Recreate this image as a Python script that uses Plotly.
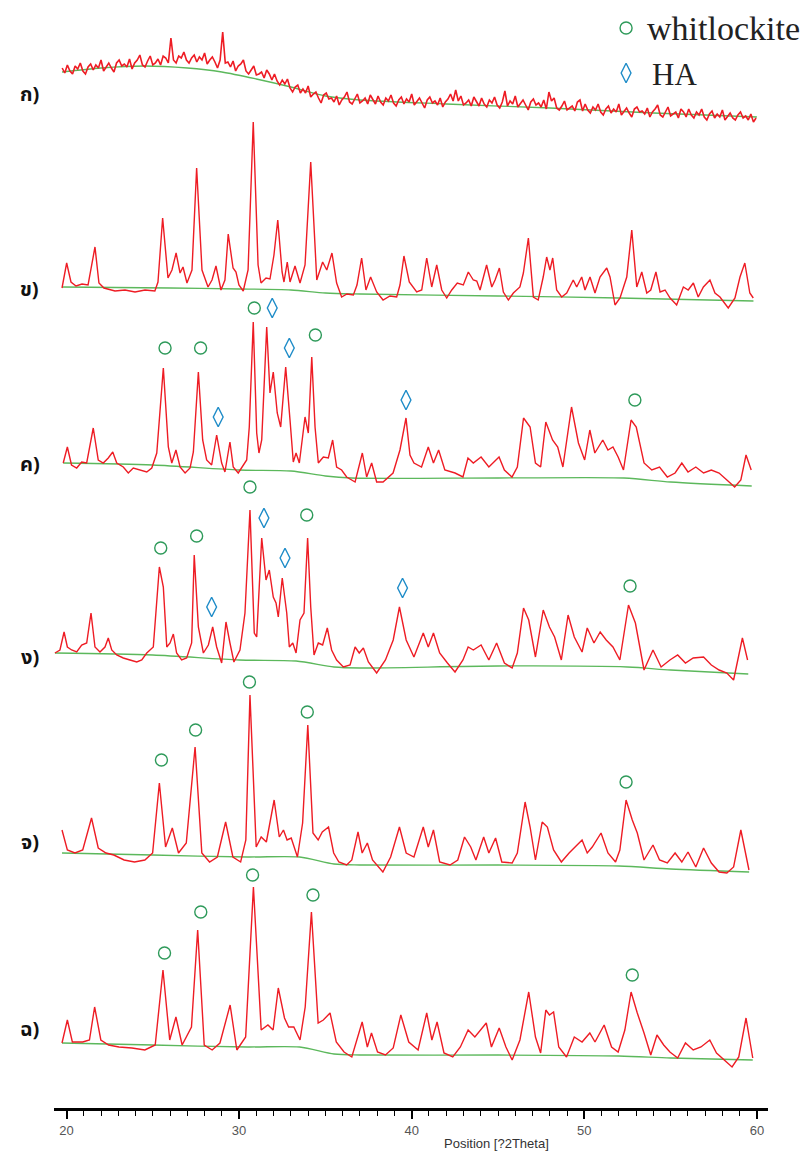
import plotly.graph_objects as go

# ---------------- data (2theta [deg], intensity [a.u.]) ----------------
PATTERN_KO = [  # ก)
    (19.75,52),(19.9,47),(20.05,55),(20.2,49),(20.35,46),(20.5,54),(20.65,51),(20.8,57),(20.95,49),(21.1,46),
    (21.25,53),(21.4,56),(21.55,50),(21.7,55),(21.85,52),(22.0,60),(22.15,49),(22.3,53),(22.45,57),(22.6,52),
    (22.75,48),(22.9,57),(23.05,60),(23.2,54),(23.35,56),(23.5,53),(23.65,61),(23.8,51),(23.95,57),(24.1,60),
    (24.25,65),(24.4,55),(24.55,53),(24.7,59),(24.85,64),(25.0,55),(25.15,57),(25.3,61),(25.45,55),(25.6,64),
    (25.75,62),(25.9,57),(26.05,82),(26.2,60),(26.35,57),(26.5,64),(26.65,62),(26.8,68),(26.95,60),(27.1,57),
    (27.25,62),(27.4,65),(27.55,58),(27.7,63),(27.85,60),(28.0,67),(28.15,56),(28.3,60),(28.45,63),(28.6,58),
    (28.75,52),(28.9,60),(29.05,88),(29.2,57),(29.35,58),(29.5,53),(29.65,59),(29.8,49),(29.95,54),(30.1,56),
    (30.25,60),(30.4,49),(30.55,46),(30.7,50),(30.85,54),(31.0,45),(31.15,46),(31.3,48),(31.45,42),(31.6,50),
    (31.75,46),(31.9,40),(32.05,46),(32.2,39),(32.35,35),(32.5,40),(32.65,36),(32.8,41),(32.95,32),(33.1,28),
    (33.25,33),(33.4,35),(33.55,27),(33.7,31),(33.85,27),(34.0,34),(34.15,23),(34.3,26),(34.45,28),(34.6,22),
    (34.75,17),(34.9,25),(35.05,27),(35.2,21),(35.35,22),(35.5,18),(35.65,24),(35.8,15),(35.95,20),(36.1,23),
    (36.25,28),(36.4,18),(36.55,16),(36.7,21),(36.85,26),(37.0,17),(37.15,19),(37.3,22),(37.45,16),(37.6,25),
    (37.75,21),(37.9,16),(38.05,24),(38.2,18),(38.35,15),(38.5,22),(38.65,19),(38.8,25),(38.95,17),(39.1,14),
    (39.25,20),(39.4,23),(39.55,16),(39.7,21),(39.85,18),(40.0,26),(40.15,15),(40.3,19),(40.45,22),(40.6,17),
    (40.75,12),(40.9,20),(41.05,23),(41.2,17),(41.35,19),(41.5,15),(41.65,22),(41.8,13),(41.95,18),(42.1,21),
    (42.25,26),(42.4,19),(42.55,30),(42.7,19),(42.85,24),(43.0,15),(43.15,17),(43.3,20),(43.45,14),(43.6,23),
    (43.75,19),(43.9,14),(44.05,22),(44.2,16),(44.35,13),(44.5,20),(44.65,17),(44.8,23),(44.95,15),(45.1,12),
    (45.25,18),(45.4,29),(45.55,14),(45.7,19),(45.85,16),(46.0,24),(46.15,13),(46.3,17),(46.45,20),(46.6,15),
    (46.75,10),(46.9,18),(47.05,21),(47.2,15),(47.35,17),(47.5,13),(47.65,20),(47.8,11),(47.95,28),(48.1,19),
    (48.25,22),(48.4,12),(48.55,10),(48.7,14),(48.85,19),(49.0,10),(49.15,12),(49.3,14),(49.45,9),(49.6,18),
    (49.75,20),(49.9,9),(50.05,16),(50.2,10),(50.35,7),(50.5,13),(50.65,10),(50.8,16),(50.95,8),(51.1,5),
    (51.25,11),(51.4,14),(51.55,7),(51.7,11),(51.85,8),(52.0,16),(52.15,5),(52.3,9),(52.45,12),(52.6,7),
    (52.75,3),(52.9,11),(53.05,13),(53.2,8),(53.35,9),(53.5,6),(53.65,12),(53.8,3),(53.95,8),(54.1,11),
    (54.25,15),(54.4,5),(54.55,3),(54.7,8),(54.85,13),(55.0,4),(55.15,6),(55.3,8),(55.45,2),(55.6,11),
    (55.75,8),(55.9,3),(56.05,11),(56.2,5),(56.35,2),(56.5,8),(56.65,5),(56.8,11),(56.95,3),(57.1,0),
    (57.25,6),(57.4,9),(57.55,2),(57.7,6),(57.85,3),(58.0,10),(58.15,0),(58.3,4),(58.45,7),(58.6,2),
    (58.75,0),(58.9,5),(59.05,8),(59.2,2),(59.35,4),(59.5,0),(59.65,6),(59.8,-2),(59.95,2),
]
BASE_KO = [(19.74,48),(22,52),(24.5,54),(27,52),(29,48),(31,41),(33,33),(35,24),(37,20),(42,16),(48,12),(54,7),(60,3)]

PATTERN_KHO = [  # ข)
    (19.74,12),(20.01,37),(20.26,18),(20.55,14),(20.9,16),(21.25,15),(21.65,53),(21.88,17),(22.17,12),(22.81,9),
    (23.39,10),(23.97,8),(24.55,10),(25.12,9),(25.3,18),(25.57,82),(25.88,22),(26.11,30),(26.35,47),(26.58,27),
    (26.75,33),(26.98,17),(27.27,30),(27.54,132),(27.85,30),(28.2,13),(28.43,20),(28.66,34),(28.95,10),(29.18,20),
    (29.37,66),(29.65,32),(29.82,28),(29.99,15),(30.24,9),(30.52,30),(30.82,178),(31.1,35),(31.27,17),(31.56,22),
    (31.79,21),(32.02,45),(32.24,80),(32.49,28),(32.6,18),(32.79,38),(32.95,18),(33.24,34),(33.53,17),(33.82,35),
    (34.15,138),(34.5,20),(34.84,38),(35.08,30),(35.38,47),(35.65,17),(35.94,3),(36.25,6),(36.62,5),(36.83,15),
    (37.1,42),(37.35,10),(37.62,23),(37.97,8),(38.34,0),(38.74,4),(39.13,3),(39.32,15),(39.55,44),(39.86,18),
    (40.29,8),(40.58,10),(40.87,42),(41.16,13),(41.45,35),(41.74,10),(42.03,2),(42.32,10),(42.64,17),(42.99,15),
    (43.28,28),(43.57,20),(43.77,19),(43.96,10),(44.34,35),(44.64,13),(44.83,20),(45.08,32),(45.31,8),(45.6,0),
    (45.89,7),(46.27,13),(46.47,27),(46.76,62),(47.05,3),(47.33,0),(47.62,23),(47.82,43),(48.01,30),(48.17,42),
    (48.4,10),(48.69,3),(48.98,7),(49.36,20),(49.56,13),(49.85,23),(50.04,10),(50.33,23),(50.62,7),(50.91,23),
    (51.3,32),(51.49,23),(51.78,-5),(52.07,2),(52.46,23),(52.75,70),(53.04,13),(53.33,28),(53.62,7),(53.85,10),
    (54.15,28),(54.39,8),(54.68,10),(54.97,2),(55.35,-5),(55.74,13),(56.02,10),(56.32,17),(56.6,3),(56.9,13),
    (57.28,20),(57.57,7),(57.86,3),(58.34,-8),(58.73,2),(59.02,23),(59.3,37),(59.59,7),(59.79,2),
]
BASE_KHO = [(19.74,13),(26,12),(30,11),(33,10),(35,7),(37,6),(45,4),(52,2),(59.8,-1)]

PATTERN_KHO_KHWAI = [  # ค)
    (19.81,27),(20.05,43),(20.29,25),(20.59,22),(20.88,28),(21.17,27),(21.55,62),(21.84,30),(22.13,27),(22.42,32),
    (22.68,38),(22.91,27),(23.29,23),(23.58,17),(23.87,22),(24.26,20),(24.65,18),(24.94,22),(25.23,37),(25.61,122),
    (25.9,43),(26.1,27),(26.34,40),(26.58,23),(26.87,17),(27.16,22),(27.35,38),(27.64,118),(27.89,50),(28.12,30),
    (28.41,25),(28.7,55),(28.99,27),(29.18,18),(29.47,48),(29.66,23),(29.95,17),(30.44,30),(30.59,63),(30.82,168),
    (31.02,57),(31.15,37),(31.31,50),(31.6,163),(31.79,97),(31.98,118),(32.21,77),(32.41,63),(32.7,123),(32.95,70),
    (33.14,28),(33.3,37),(33.49,27),(33.82,73),(34.01,57),(34.21,133),(34.4,63),(34.59,27),(34.88,33),(35.17,32),
    (35.42,50),(35.65,23),(35.94,20),(36.23,13),(36.72,8),(37.14,37),(37.39,13),(37.68,27),(37.97,8),(38.34,8),
    (38.92,17),(39.32,40),(39.67,72),(39.9,35),(40.13,27),(40.57,23),(40.96,43),(41.26,27),(41.56,40),(41.92,20),
    (42.51,17),(42.97,13),(43.26,32),(43.57,27),(44.02,33),(44.47,23),(45.06,33),(45.37,20),(45.81,13),(46.12,23),
    (46.48,72),(46.86,63),(47.17,27),(47.47,23),(47.77,68),(48.16,50),(48.46,43),(48.76,23),(49.26,83),(49.66,47),
    (50.02,30),(50.32,60),(50.61,37),(51.07,50),(51.37,40),(51.66,43),(51.96,33),(52.27,20),(52.71,70),(53.01,63),
    (53.46,27),(53.91,20),(54.36,23),(54.81,13),(55.26,17),(55.65,27),(56.01,18),(56.46,23),(56.91,17),(57.36,20),
    (57.81,17),(58.26,10),(58.71,3),(59.07,10),(59.37,35),(59.67,20),
]
BASE_KHO_KHWAI = [(19.81,27),(25,25),(30,20),(33,19),(35,14),(36.5,12),(45,12),(52.3,12),(55,8),(59.7,4)]

PATTERN_NGO = [  # ง)
    (19.33,27),(19.62,30),(19.86,48),(20.05,33),(20.3,30),(20.59,28),(20.88,35),(21.17,37),(21.42,67),(21.65,33),
    (21.94,28),(22.23,33),(22.42,42),(22.62,30),(22.91,25),(23.29,22),(23.68,20),(24.07,18),(24.36,20),(24.65,27),
    (25.03,33),(25.38,113),(25.61,93),(25.81,33),(26.0,37),(26.19,46),(26.38,27),(26.67,20),(26.96,22),(27.25,37),
    (27.4,125),(27.64,53),(27.93,27),(28.22,35),(28.47,53),(28.7,33),(28.99,17),(29.24,58),(29.47,37),(29.7,18),
    (30.05,30),(30.34,67),(30.63,170),(30.88,47),(31.02,43),(31.31,142),(31.56,100),(31.75,110),(31.98,83),(32.14,77),
    (32.27,63),(32.5,102),(32.76,67),(32.91,33),(33.11,37),(33.3,27),(33.53,60),(33.76,67),(33.97,142),(34.15,73),
    (34.34,25),(34.59,37),(34.84,35),(35.11,52),(35.36,30),(35.65,20),(36.04,13),(36.43,15),(36.72,33),(36.96,27),
    (37.2,32),(37.49,18),(37.97,7),(38.48,20),(38.93,40),(39.29,73),(39.68,40),(40.13,23),(40.67,47),(40.96,33),
    (41.26,47),(41.62,27),(42.07,17),(42.51,8),(42.97,20),(43.27,33),(43.57,30),(44.02,35),(44.47,20),(44.92,37),
    (45.37,17),(45.82,12),(46.12,27),(46.48,72),(46.78,60),(47.17,23),(47.62,70),(47.98,53),(48.28,43),(48.67,20),
    (49.06,65),(49.42,43),(49.87,28),(50.17,52),(50.56,37),(50.92,48),(51.27,40),(51.66,33),(52.06,20),(52.56,75),
    (52.96,57),(53.46,10),(53.98,30),(54.45,13),(54.96,20),(55.41,25),(55.86,17),(56.31,22),(56.91,23),(57.36,15),
    (57.81,10),(58.26,7),(58.65,0),(59.16,42),(59.46,20),
]
BASE_NGO = [(19.33,27),(25,25),(30,20),(33.3,19),(35.5,13),(37,12),(45,14),(52.5,13),(55,10),(59.5,6)]

PATTERN_CHO = [  # จ)
    (19.74,45),(20.05,25),(20.49,22),(20.94,25),(21.45,57),(21.84,27),(22.29,22),(22.74,20),(23.34,15),(23.94,13),
    (24.54,15),(24.99,22),(25.38,92),(25.74,28),(26.13,47),(26.49,22),(26.94,32),(27.45,128),(27.84,22),(28.29,13),
    (28.74,18),(29.22,53),(29.64,18),(30.09,13),(30.39,35),(30.63,180),(30.99,28),(31.28,38),(31.58,33),(32.03,75),
    (32.33,38),(32.57,45),(32.78,35),(33.02,37),(33.38,18),(33.68,52),(33.98,150),(34.28,42),(34.58,35),(34.82,43),
    (35.18,48),(35.48,22),(35.78,13),(36.23,10),(36.53,15),(36.89,43),(37.13,22),(37.43,32),(37.73,15),(38.33,3),
    (38.78,18),(39.29,48),(39.68,22),(40.13,18),(40.67,48),(40.96,28),(41.26,45),(41.62,13),(42.22,10),(42.67,15),
    (43.06,38),(43.42,28),(43.72,15),(44.17,38),(44.47,22),(44.86,37),(45.22,13),(45.82,12),(46.12,22),(46.57,73),
    (46.86,48),(47.17,15),(47.56,53),(47.86,48),(48.22,25),(48.67,13),(49.12,22),(49.42,27),(49.87,35),(50.17,22),
    (50.46,28),(50.97,42),(51.37,22),(51.81,13),(52.06,25),(52.42,75),(52.78,55),(53.07,42),(53.46,15),(53.98,30),
    (54.36,15),(54.81,12),(55.26,22),(55.65,13),(56.01,23),(56.46,8),(56.91,27),(57.36,12),(57.81,3),(58.26,2),
    (58.65,8),(59.07,45),(59.54,5),
]
BASE_CHO = [(19.74,22),(25,20),(30.5,18),(33.5,18),(35.5,11),(37,10),(45,10),(52,9),(55,6),(59.55,3)]

PATTERN_CHO_CHING = [  # ฉ)
    (19.74,22),(20.05,45),(20.34,23),(20.94,23),(21.33,25),(21.63,58),(21.99,25),(22.44,20),(23.04,18),(23.79,17),
    (24.54,15),(25.14,20),(25.59,95),(25.98,25),(26.34,48),(26.7,20),(27.24,38),(27.6,135),(27.98,20),(28.44,15),
    (28.89,22),(29.48,60),(29.87,15),(30.38,28),(30.83,178),(31.28,35),(31.67,40),(31.97,35),(32.27,77),(32.63,47),
    (32.87,38),(33.17,38),(33.53,25),(33.83,58),(34.19,153),(34.58,42),(34.88,45),(35.27,52),(35.63,23),(36.08,13),
    (36.53,8),(37.13,43),(37.43,18),(37.67,32),(38.02,13),(38.48,10),(38.93,17),(39.37,50),(39.83,23),(40.37,15),
    (40.87,52),(41.17,25),(41.47,43),(41.87,12),(42.38,8),(42.82,18),(43.27,35),(43.66,28),(44.32,42),(44.62,18),
    (45.07,37),(45.46,18),(45.82,5),(46.27,25),(46.78,73),(47.17,28),(47.47,12),(47.77,55),(47.98,50),(48.22,53),
    (48.52,18),(48.97,8),(49.42,28),(49.87,23),(50.32,32),(50.62,23),(51.15,40),(51.58,18),(51.96,13),(52.35,35),
    (52.71,73),(53.07,52),(53.46,32),(53.85,10),(54.21,30),(54.6,20),(54.96,13),(55.41,7),(55.86,22),(56.31,15),
    (56.76,18),(57.27,25),(57.66,12),(58.11,5),(58.56,-2),(58.95,8),(59.37,47),(59.76,7),
]
BASE_CHO_CHING = [(19.74,22),(25,20),(30.5,18),(33.5,18),(35.5,11),(37,10),(45,10),(52,9),(55,7),(59.76,5)]

# phase markers (2theta, intensity level of the symbol)
WHIT_KHO_KHWAI = [(25.71,142),(27.77,142),(30.88,182),(34.42,155),(52.93,90)]
HA_KHO_KHWAI = [(28.79,73),(31.92,182),(32.91,142),(39.67,90)]
WHIT_NGO = [(25.46,132),(27.54,144),(30.63,193),(33.92,165),(52.65,94)]
HA_NGO = [(28.41,73),(31.44,162),(32.66,122),(39.47,92)]
WHIT_CHO = [(25.5,115),(27.48,145),(30.6,193),(33.95,163),(52.42,93)]
WHIT_CHO_CHING = [(25.68,112),(27.78,153),(30.78,190),(34.28,170),(52.78,90)]

LABELS = ["ก)", "ข)", "ค)", "ง)", "จ)", "ฉ)"]
X_TICKS = [20, 30, 40, 50, 60]
LEGEND_NAMES = ["whitlockite", "HA"]

# ---------------- layout constants ----------------
Y_TOP = 1108
OFFSETS = [988, 808, 618, 428, 233, 43]          # vertical stacking of the patterns
LABEL_LEVEL = [25, 10, 25, 22, 32, 35]
RED = "#ee1c24"
GREEN = "#5cb85c"
WHIT_COLOR = "#2e9a5a"
HA_COLOR = "#1e8cc8"
THAI_FONT = "Noto Sans Thai, Noto Serif Thai, Loma, Garuda, Norasi, Tlwg Typo, DejaVu Sans, sans-serif"
SERIF = "Liberation Serif, Times New Roman, serif"

patterns = [PATTERN_KO, PATTERN_KHO, PATTERN_KHO_KHWAI, PATTERN_NGO, PATTERN_CHO, PATTERN_CHO_CHING]
baselines = [BASE_KO, BASE_KHO, BASE_KHO_KHWAI, BASE_NGO, BASE_CHO, BASE_CHO_CHING]
whit = [[], [], WHIT_KHO_KHWAI, WHIT_NGO, WHIT_CHO, WHIT_CHO_CHING]
ha = [[], [], HA_KHO_KHWAI, HA_NGO, [], []]

fig = go.Figure()

for i, (pat, base) in enumerate(zip(patterns, baselines)):
    off = OFFSETS[i]
    fig.add_trace(go.Scatter(x=[p[0] for p in base], y=[p[1] + off for p in base], mode="lines",
                             line=dict(color=GREEN, width=1.3, shape="spline", smoothing=0.8),
                             hoverinfo="skip", showlegend=False))
    fig.add_trace(go.Scatter(x=[p[0] for p in pat], y=[p[1] + off for p in pat], mode="lines",
                             line=dict(color=RED, width=1.6 if i == 0 else 1.4), showlegend=False))
    if whit[i]:
        fig.add_trace(go.Scatter(x=[p[0] for p in whit[i]], y=[p[1] + off for p in whit[i]], mode="markers",
                                 marker=dict(symbol="circle-open", size=12, color=WHIT_COLOR, line=dict(width=1.4)),
                                 showlegend=False))
    if ha[i]:
        fig.add_trace(go.Scatter(x=[p[0] for p in ha[i]], y=[p[1] + off for p in ha[i]], mode="markers",
                                 marker=dict(symbol="diamond-tall-open", size=14, color=HA_COLOR, line=dict(width=1.4)),
                                 showlegend=False))
    fig.add_annotation(x=-0.034, y=(off + LABEL_LEVEL[i]) / Y_TOP, xref="paper", yref="paper",
                       xanchor="center", yanchor="middle", text="<b>" + LABELS[i] + "</b>", showarrow=False,
                       font=dict(family=THAI_FONT, size=20, color="#111"))

# legend (symbols + serif text, top right, as in the original)
fig.add_trace(go.Scatter(x=[52.42], y=[1080], mode="markers",
                         marker=dict(symbol="circle-open", size=12, color=WHIT_COLOR, line=dict(width=1.4)),
                         showlegend=False, cliponaxis=False))
fig.add_trace(go.Scatter(x=[52.42], y=[1035], mode="markers",
                         marker=dict(symbol="diamond-tall-open", size=14, color=HA_COLOR, line=dict(width=1.4)),
                         showlegend=False, cliponaxis=False))
fig.add_annotation(x=0.8277, y=1080 / Y_TOP, xref="paper", yref="paper", text=LEGEND_NAMES[0], showarrow=False,
                   xanchor="left", yanchor="middle", font=dict(family=SERIF, size=34, color="#222"))
fig.add_annotation(x=0.8347, y=1033 / Y_TOP, xref="paper", yref="paper", text=LEGEND_NAMES[1], showarrow=False,
                   xanchor="left", yanchor="middle", font=dict(family=SERIF, size=31, color="#222"))

fig.add_annotation(x=0.6204, y=-35 / Y_TOP, xref="paper", yref="paper", text="Position [?2Theta]", showarrow=False,
                   xanchor="center", yanchor="middle",
                   font=dict(family="Liberation Sans, Arial, sans-serif", size=13, color="#333"))

fig.update_layout(
    width=811, height=1153,
    margin=dict(l=54, r=43, t=0, b=45, autoexpand=False),
    paper_bgcolor="white", plot_bgcolor="white",
    xaxis=dict(range=[19.276, 60.643], tickvals=X_TICKS, ticks="outside", ticklen=8, tickwidth=1.5,
               tickcolor="black", showline=True, linewidth=3, linecolor="black", showgrid=False,
               zeroline=False, automargin=False,
               tickfont=dict(family="Liberation Sans, Arial, sans-serif", size=13, color="#555"),
               minor=dict(dtick=1, ticks="outside", ticklen=5, tickwidth=1.2, tickcolor="black", showgrid=False)),
    yaxis=dict(range=[0, Y_TOP], visible=False, showgrid=False, zeroline=False),
)

fig.write_html("out.html", config={"displayModeBar": False},
               post_script="document.body.style.margin='0px';")
